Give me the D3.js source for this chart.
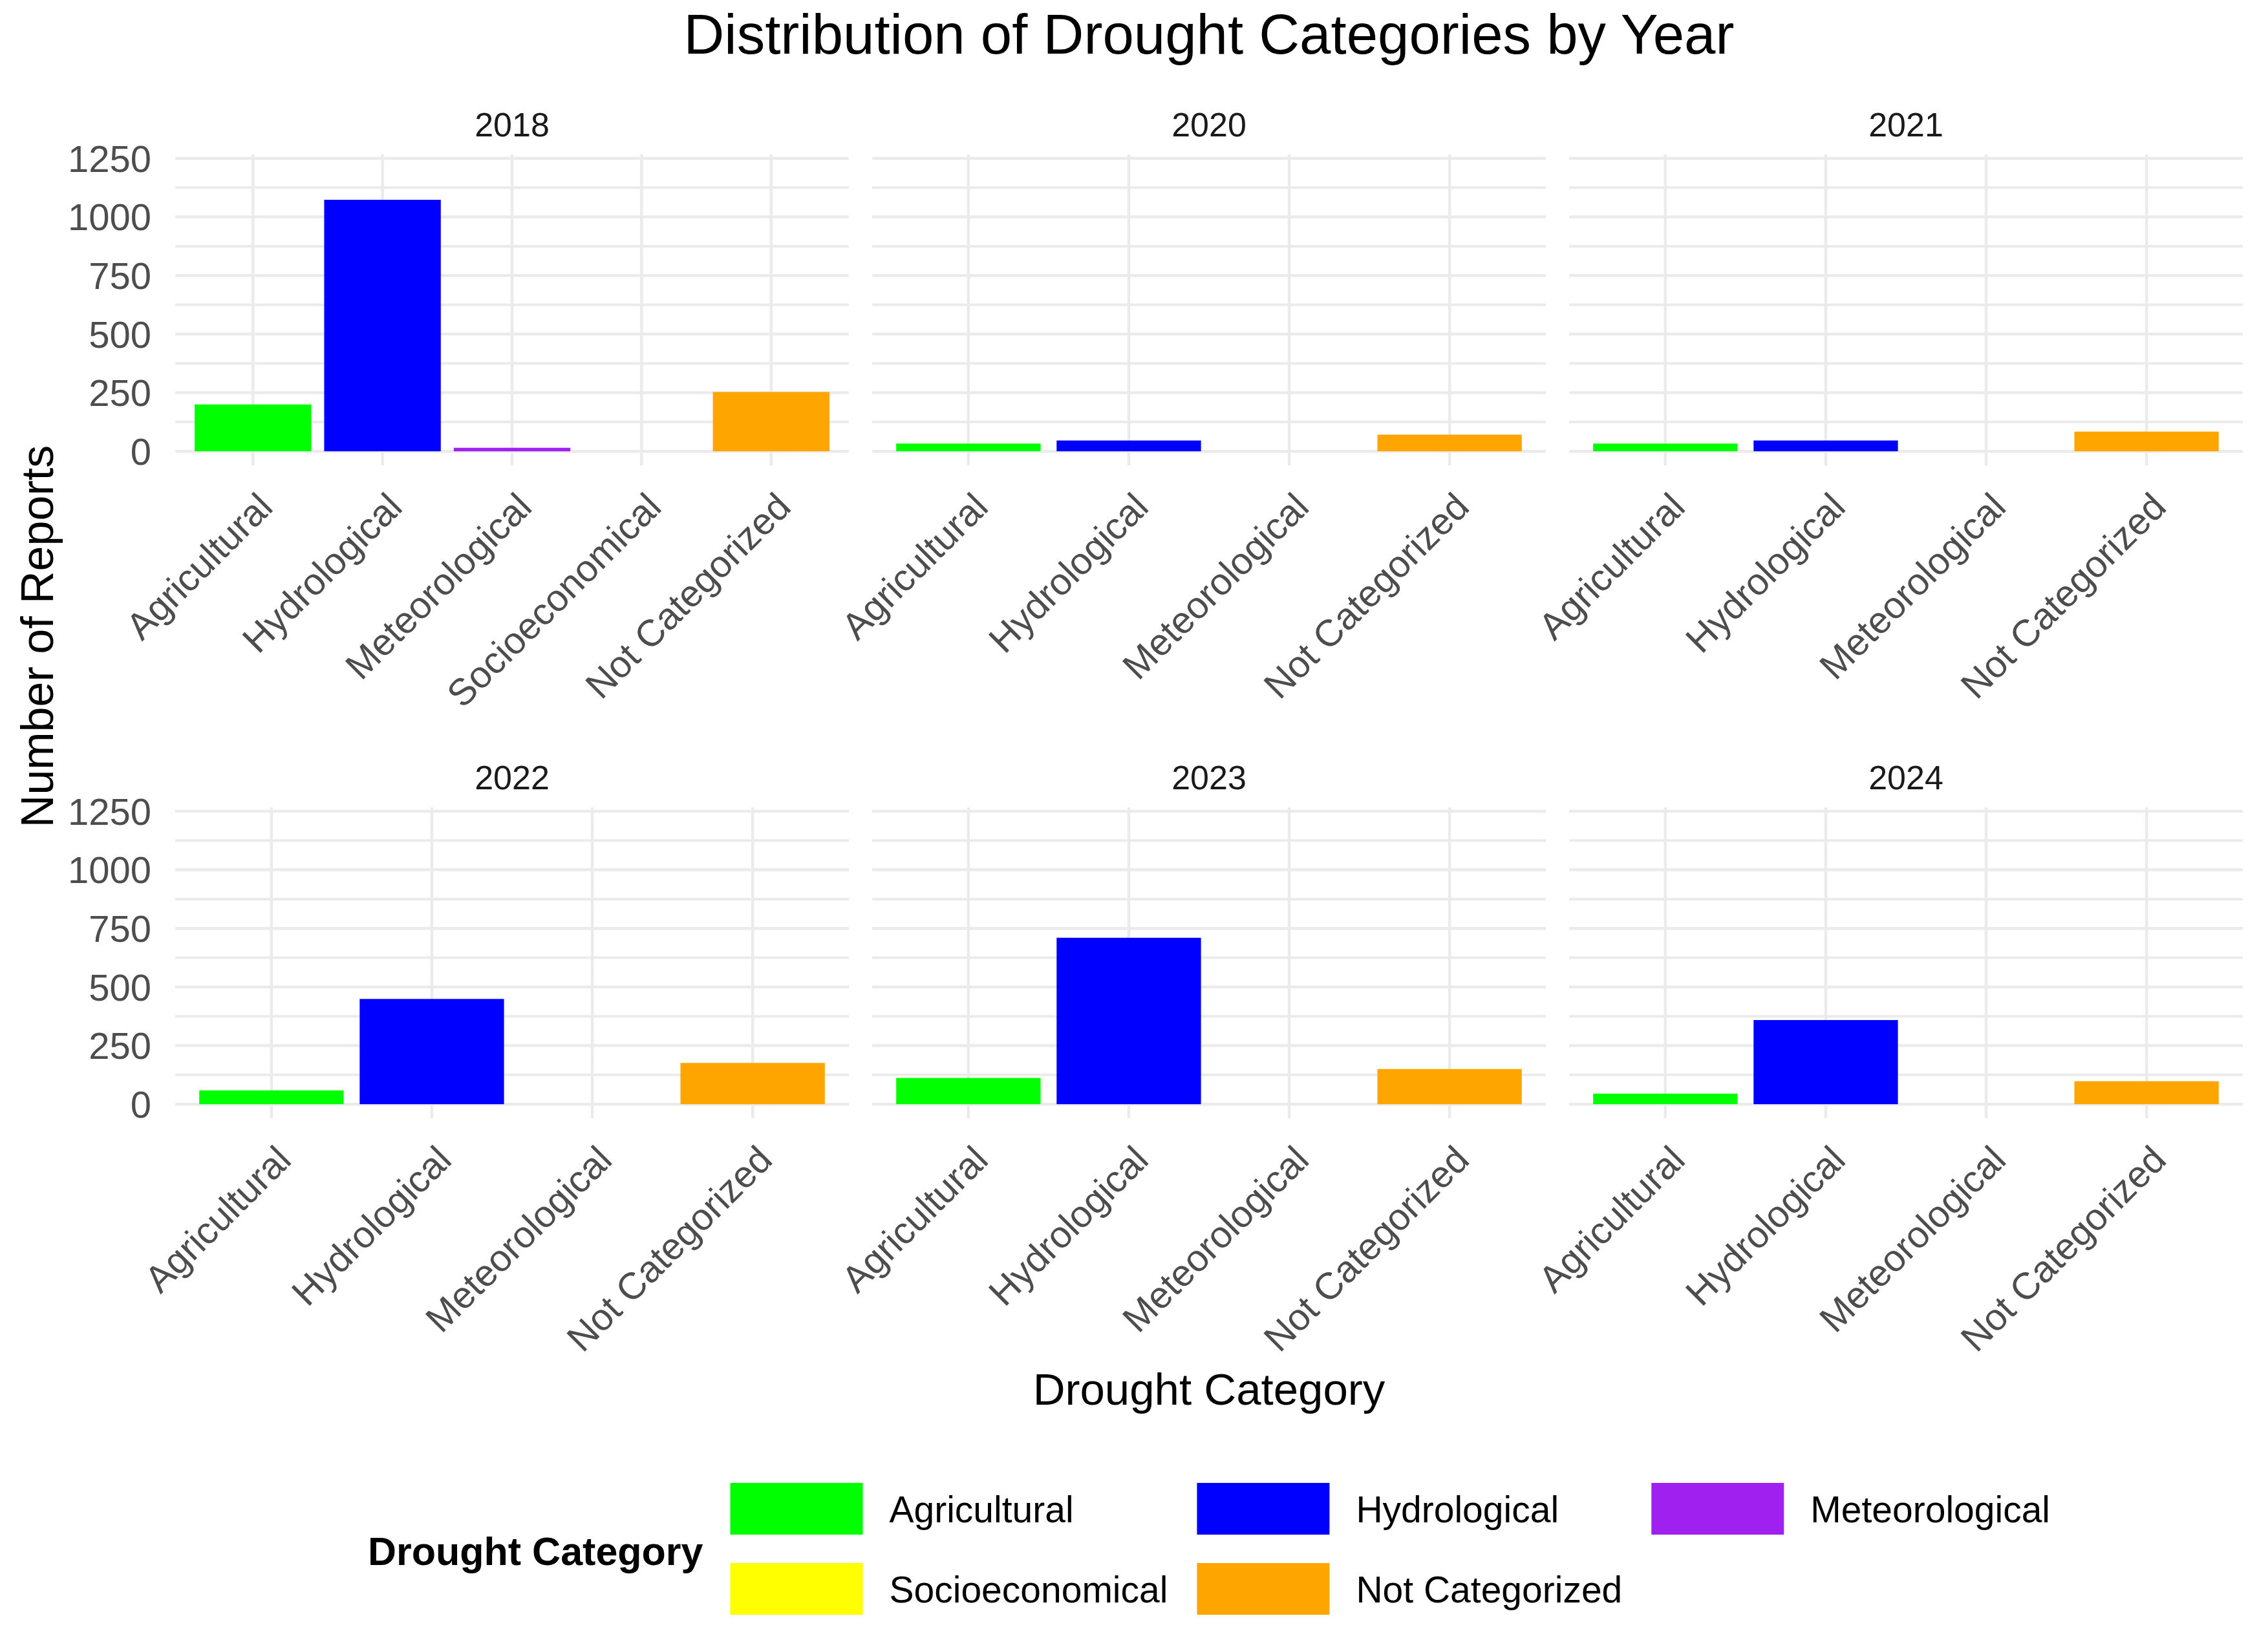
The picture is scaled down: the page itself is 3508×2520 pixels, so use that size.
<!DOCTYPE html>
<html>
<head>
<meta charset="utf-8">
<script src="https://cdn.jsdelivr.net/npm/d3@7"></script>
<style>
  body { margin: 0; background: #fff; }
  svg { display: block; }
  text { font-family: "Liberation Sans", Arial, sans-serif; }
</style>
</head>
<body>
<svg id="chart"></svg>
<script>
// data (counts of reports); 0 = category present but bar too small to see
const years = ["2018", "2020", "2021", "2022", "2023", "2024"];
const categories = ["Agricultural", "Hydrological", "Meteorological", "Socioeconomical", "Not Categorized"];
const agricultural = [200, 33, 33, 59, 112, 45];
const hydrological = [1073, 46, 46, 449, 710, 359];
const meteorological = [15, 0, 0, 0, 0, 0];
const socioeconomical = [0, null, null, null, null, null];
const notCategorized = [253, 71, 84, 176, 150, 98];
const yTicks = [0, 250, 500, 750, 1000, 1250];
const yMinorTicks = [125, 375, 625, 875, 1125];
const colors = ["#00FF00", "#0000FF", "#A020F0", "#FFFF00", "#FFA500"];

const series = [agricultural, hydrological, meteorological, socioeconomical, notCategorized];

const W = 3508, H = 2520;
const svg = d3.select("#chart").attr("width", W).attr("height", H);
svg.append("rect").attr("width", W).attr("height", H).attr("fill", "#fff");

// facet layout
const panelW = 1042, gapX = 36, left0 = 271;
const rowTops = [239, 1249], panelH = 481;
const plotCenter = left0 + (3 * panelW + 2 * gapX) / 2;
const yUpper = 1206;
const grid = "#EBEBEB";

const color = d3.scaleOrdinal().domain(categories).range(colors);

years.forEach((year, i) => {
  const col = i % 3, row = Math.floor(i / 3);
  const x0 = left0 + col * (panelW + gapX);
  const top = rowTops[row], bottom = top + panelH;

  const cats = categories.filter((c, k) => series[k][i] != null);
  const rows = cats.map(c => ({ cat: c, value: series[categories.indexOf(c)][i] }))
    .filter(d => d.value > 0);

  const x = d3.scaleBand().domain(cats).range([x0, x0 + panelW])
    .paddingInner(0.1).paddingOuter(0.15);
  const pad = yUpper * 0.05;
  const y = d3.scaleLinear().domain([-pad, yUpper + pad]).range([bottom, top]);

  const g = svg.append("g");

  // grid
  g.selectAll(".minor").data(yMinorTicks).enter().append("line")
    .attr("x1", x0).attr("x2", x0 + panelW)
    .attr("y1", d => y(d)).attr("y2", d => y(d))
    .attr("stroke", grid).attr("stroke-width", 4);
  g.selectAll(".major").data(yTicks).enter().append("line")
    .attr("x1", x0).attr("x2", x0 + panelW)
    .attr("y1", d => y(d)).attr("y2", d => y(d))
    .attr("stroke", grid).attr("stroke-width", 4.5);
  g.selectAll(".vgrid").data(cats).enter().append("line")
    .attr("x1", d => x(d) + x.bandwidth() / 2).attr("x2", d => x(d) + x.bandwidth() / 2)
    .attr("y1", top).attr("y2", bottom)
    .attr("stroke", grid).attr("stroke-width", 4.5);

  // bars
  g.selectAll(".bar").data(rows).enter().append("rect")
    .attr("x", d => x(d.cat))
    .attr("width", x.bandwidth())
    .attr("y", d => y(d.value))
    .attr("height", d => y(0) - y(d.value))
    .attr("fill", d => color(d.cat));

  // strip
  g.append("text")
    .attr("x", x0 + panelW / 2).attr("y", top - 28)
    .attr("text-anchor", "middle")
    .attr("font-size", 52).attr("fill", "#1A1A1A")
    .text(year);

  // x tick labels, rotated 45
  g.selectAll(".xlab").data(cats).enter().append("text")
    .attr("transform", d => `translate(${x(d) + x.bandwidth() / 2 + 4},${bottom + 38}) rotate(-45)`)
    .attr("text-anchor", "end")
    .attr("dy", "0.72em")
    .attr("font-size", 58).attr("fill", "#4D4D4D")
    .text(d => d);

  // y tick labels on the first column only
  if (col === 0) {
    g.selectAll(".ylab").data(yTicks).enter().append("text")
      .attr("x", 234).attr("y", d => y(d))
      .attr("dy", "0.36em")
      .attr("text-anchor", "end")
      .attr("font-size", 58).attr("fill", "#4D4D4D")
      .text(d => d);
  }
});

// titles
svg.append("text")
  .attr("x", plotCenter).attr("y", 83)
  .attr("text-anchor", "middle").attr("font-size", 87).attr("fill", "#000")
  .text("Distribution of Drought Categories by Year");

svg.append("text")
  .attr("transform", `translate(82,${(rowTops[0] + rowTops[1] + panelH) / 2}) rotate(-90)`)
  .attr("text-anchor", "middle").attr("font-size", 70).attr("fill", "#000")
  .text("Number of Reports");

svg.append("text")
  .attr("x", plotCenter).attr("y", 2173)
  .attr("text-anchor", "middle").attr("font-size", 69).attr("fill", "#000")
  .text("Drought Category");

// legend: 2 rows, filled by row
const legend = svg.append("g");
const keyW = 205, keyH = 80, keyGap = 41, colGap = 45, titleGap = 42;
const rowY = [2294, 2418];
const nCols = 3;

const ltitle = legend.append("text")
  .attr("y", 2421).attr("font-size", 61).attr("font-weight", "bold").attr("fill", "#000")
  .text("Drought Category");
const titleW = ltitle.node().getComputedTextLength();

// measure labels
const meas = legend.append("text").attr("font-size", 57);
const labelW = categories.map(c => { meas.text(c); return meas.node().getComputedTextLength(); });
meas.remove();

const colW = d3.range(nCols).map(c =>
  d3.max(categories.map((cat, k) => k % nCols === c ? labelW[k] : 0)));
const totalW = titleW + titleGap + d3.sum(colW.map(w => keyW + keyGap + w)) + colGap * (nCols - 1);
const lx0 = plotCenter - totalW / 2;
ltitle.attr("x", lx0);

const colX = [];
let cx = lx0 + titleW + titleGap;
colW.forEach(w => { colX.push(cx); cx += keyW + keyGap + w + colGap; });

categories.forEach((c, k) => {
  const r = Math.floor(k / nCols), cc = k % nCols;
  legend.append("rect")
    .attr("x", colX[cc]).attr("y", rowY[r])
    .attr("width", keyW).attr("height", keyH)
    .attr("fill", color(c));
  legend.append("text")
    .attr("x", colX[cc] + keyW + keyGap).attr("y", rowY[r] + keyH / 2)
    .attr("dy", "0.36em")
    .attr("font-size", 57).attr("fill", "#000")
    .text(c);
});
</script>
</body>
</html>
